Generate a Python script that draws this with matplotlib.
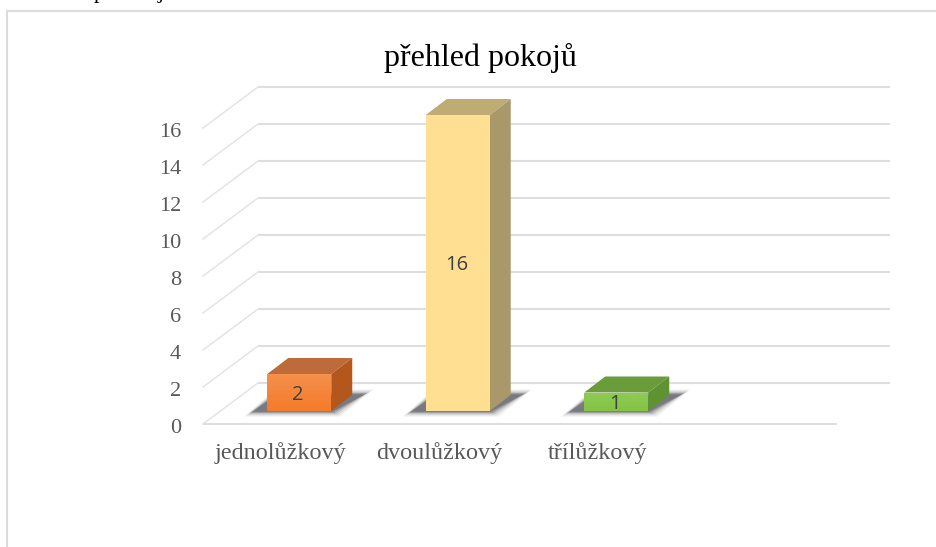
import matplotlib
matplotlib.use("Agg")
import matplotlib.pyplot as plt
from matplotlib.lines import Line2D
from matplotlib.patches import Polygon
from matplotlib.transforms import ScaledTranslation
import numpy as np

title = "přehled pokojů"
categories = ["jednolůžkový", "dvoulůžkový", "třílůžkový", ""]
values = [2, 16, 1]
y_ticks = [0, 2, 4, 6, 8, 10, 12, 14, 16]
front_colors = ["#F47B2A", "#FFE093", "#83C443"]
top_colors = ["#BD6B3B", "#BFAC72", "#6A9C3A"]
side_colors = ["#B3571D", "#A9996A", "#5F9231"]
sheen = [0.16, 0.0, 0.10]

W, H = 936, 547
plt.rcParams["font.family"] = ["Liberation Serif", "DejaVu Serif"]
fig = plt.figure(figsize=(W / 100, H / 100), dpi=100, facecolor="white")
ax = fig.add_axes([203 / W, (H - 424) / H, 634 / W, 296 / H])
ax.patch.set_alpha(0)
for s in ax.spines.values():
    s.set_visible(False)

PX = 4 / 634      # data x per pixel
PY = 16 / 296     # data y per pixel

# wall / floor perspective
wall_dx, wall_dy = 55 * PX, 41 * PY
grid = "#DEDEDE"
for v in y_ticks:
    ax.plot([-0.5 + wall_dx, 3.5 + 53 * PX], [v + wall_dy] * 2, color=grid, lw=1.5,
            clip_on=False, zorder=1, solid_capstyle="butt")
    ax.plot([-0.5, -0.5 + wall_dx], [v, v + wall_dy], color="#E4E4E4", lw=1.1,
            clip_on=False, zorder=1)
ax.plot([-0.5, 3.5], [0, 0], color=grid, lw=1.5, clip_on=False, zorder=1,
        solid_capstyle="butt")

# bars
bw = 64 * PX
off_x, base = 17 * PX, 13 * PY
dx, dy = 21 * PX, 16 * PY
pos = np.arange(len(values))
for i, v in enumerate(values):
    x0 = pos[i] + off_x - bw / 2
    x1 = x0 + bw
    top = base + v
    # soft shadow on the floor
    for grow, a in [(6, 0.07), (4, 0.10), (2, 0.16), (0, 0.28), (-2, 0.35)]:
        g = grow * PX
        gy = grow * PY * 0.6
        ax.add_patch(Polygon(
            [(x0 - 17 * PX - g, base - 2 * PY - gy), (x1 + 3 * PX + g, base - 2 * PY - gy),
             (x1 + 36 * PX + g, base + 18 * PY + gy), (x1 + 20 * PX - g, base + 18 * PY + gy),
             (x0, base + 11 * PY + gy)],
            closed=True, fc="#3A3B44", ec="none", alpha=a, clip_on=False, zorder=2))
    ax.bar(pos[i] + off_x, v, width=bw, bottom=base, color=front_colors[i], zorder=4, clip_on=False)
    if sheen[i] > 0:
        rgba = np.ones((32, 1, 4))
        rgba[:, 0, 3] = np.linspace(sheen[i], 0, 32)
        ax.imshow(rgba, extent=(x0, x1, base, top), origin="upper", aspect="auto", zorder=4.5, clip_on=False)
    ax.add_patch(Polygon([(x0, top), (x1, top), (x1 + dx, top + dy), (x0 + dx, top + dy)],
                         closed=True, fc=top_colors[i], ec="none", clip_on=False, zorder=3))
    ax.add_patch(Polygon([(x1, base), (x1 + dx, base + dy), (x1 + dx, top + dy), (x1, top)],
                         closed=True, fc=side_colors[i], ec="none", clip_on=False, zorder=3))
    ax.text(pos[i] + off_x - 1.5 * PX, base + v / 2 - 2.5 * PY, str(v), ha="center", va="center", color="#404040",
            family=["Open Sans", "DejaVu Sans"], fontsize=14.5, zorder=5)

ax.set_xlim(-0.5, 3.5)
ax.set_ylim(0, 16)
ax.set_xticks(np.arange(len(categories)), categories)
ax.set_yticks(y_ticks, [str(t) for t in y_ticks])
ax.tick_params(axis="both", length=0, labelcolor="#595959")
ax.tick_params(axis="y", labelsize=16, pad=15)
ax.tick_params(axis="x", labelsize=17.4, pad=13)
for lab in ax.get_yticklabels():
    lab.set_transform(lab.get_transform() + ScaledTranslation(-1 / 100, -2 / 100, fig.dpi_scale_trans))
for lab in ax.get_xticklabels():
    lab.set_transform(lab.get_transform() + ScaledTranslation(-1.5 / 100, 0, fig.dpi_scale_trans))

fig.text(480 / W, (H - 66) / H, title, ha="center", va="baseline", fontsize=23, color="black")

# chart frame and cut-off text line above it
fig.add_artist(Line2D([7.5 / W, 7.5 / W], [0, (H - 11) / H], color="#DCDCDC", lw=1.5))
fig.add_artist(Line2D([7 / W, 1], [(H - 11) / H] * 2, color="#DCDCDC", lw=1.5))
fig.text(99 / W, 1.003, "p", ha="center", va="baseline", fontsize=16, color="black")
fig.text(161 / W, 1.003, "j", ha="center", va="baseline", fontsize=16, color="black")

fig.savefig("out.png", dpi=100)
